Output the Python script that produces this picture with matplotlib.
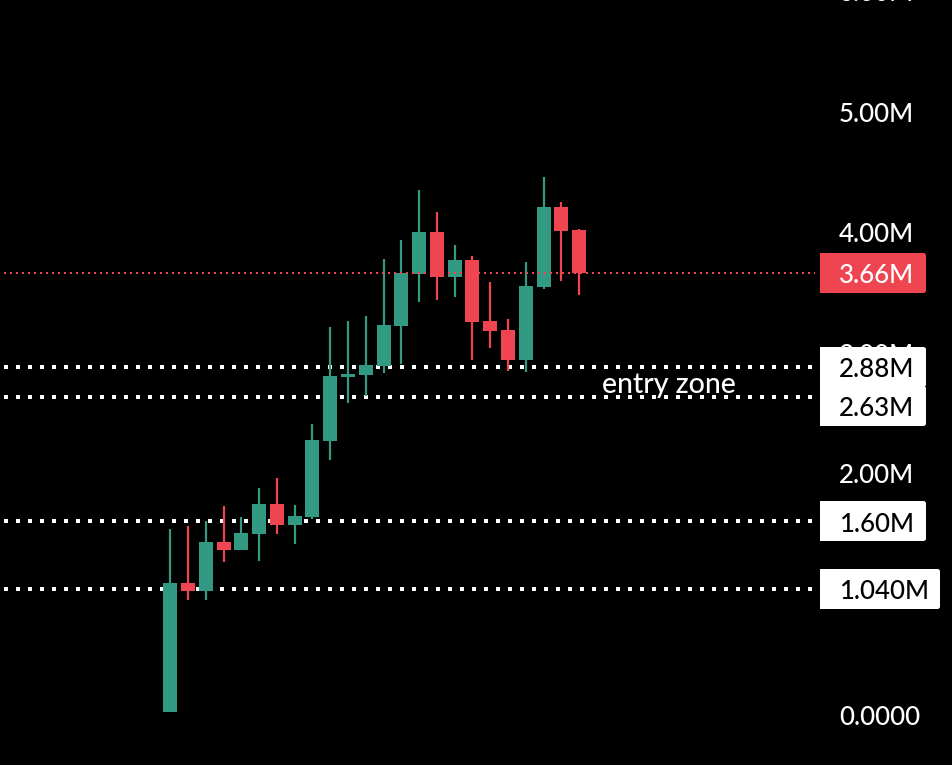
import matplotlib
matplotlib.use("Agg")
import matplotlib.pyplot as plt
from matplotlib.patches import FancyBboxPatch, Rectangle
from matplotlib.transforms import IdentityTransform

plt.rcParams['font.family'] = ['Lato', 'DejaVu Sans']
plt.rcParams['lines.scale_dashes'] = False

# candles (values in millions)
opens  = [0.020, 1.090, 1.023, 1.430, 1.363, 1.496, 1.745, 1.570, 1.637, 2.267, 2.798, 2.814, 2.889, 3.221,
          3.652, 4.000, 3.627, 3.768, 3.262, 3.187, 2.939, 3.544, 4.207, 4.017]
closes = [1.090, 1.023, 1.430, 1.363, 1.504, 1.745, 1.570, 1.645, 2.275, 2.806, 2.823, 2.897, 3.229, 3.660,
          4.000, 3.627, 3.768, 3.254, 3.179, 2.939, 3.552, 4.207, 4.008, 3.660]
highs  = [1.537, 1.562, 1.604, 1.728, 1.637, 1.877, 1.960, 1.736, 2.408, 3.212, 3.262, 3.303, 3.776, 3.934,
          4.348, 4.166, 3.892, 3.801, 3.585, 3.279, 3.751, 4.456, 4.249, 4.025]
lows   = [0.020, 0.949, 0.949, 1.264, 1.363, 1.272, 1.496, 1.413, 1.620, 2.109, 2.582, 2.640, 2.831, 2.905,
          3.420, 3.436, 3.461, 2.939, 3.038, 2.847, 2.839, 3.527, 3.594, 3.478]

axis_ticks = [0.0, 2.0, 3.0, 4.0, 5.0, 6.0]
axis_labels = ["0.0000", "2.00M", "3.00M", "4.00M", "5.00M", "6.00M"]
zone_levels = [2.88, 2.63, 1.60, 1.04]
zone_labels = ["2.88M", "2.63M", "1.60M", "1.040M"]
last_price = 3.66
last_label = "3.66M"
note = "entry zone"

GREEN = "#329A82"
RED = "#EE4550"
W, H = 953, 765
X0, STEP = 170.2, 17.78
Y0, SCALE = 714.4, 120.6
FS = 18.6


def px(p):
    return (p - X0) / STEP


fig = plt.figure(figsize=(W / 100, H / 100), dpi=100, facecolor="black")
ax = fig.add_axes([0, 0, 1, 1], facecolor="black")
ax.set_xlim(px(0), px(W))
ax.set_ylim((Y0 - H) / SCALE, Y0 / SCALE)
ax.axis("off")

lw_zone = 4 * 0.72
for v in zone_levels:
    ax.plot([px(4), px(815)], [v, v], color="white", lw=lw_zone, zorder=1,
            dash_capstyle="butt", linestyle=(0, (2.88, 5.76)))

for i, (o, c, h, l) in enumerate(zip(opens, closes, highs, lows)):
    col = GREEN if c >= o else RED
    ax.vlines(i, l, h, color=col, lw=1.6, zorder=2)
    ax.bar(i, abs(c - o), bottom=min(o, c), width=14 / STEP, color=col, lw=0, zorder=3)

ax.plot([px(4), px(815)], [last_price, last_price], color=RED, lw=1.44, zorder=4,
        dash_capstyle="butt", linestyle=(0, (1.44, 2.88)))

label_x = px(839)
BASE = 10.2 / SCALE   # baseline sits below the level by half the digit height


def label(v, text, color, z):
    ax.text(label_x, v - BASE, text, color=color, fontsize=FS, va="baseline", ha="left",
            fontweight="medium", zorder=z)


for v, t in zip(axis_ticks, axis_labels):
    label(v, t, "white", 5)


def tag(v, text, fc, tc, right=926, half=20, shift=0):
    # shift: pixels the tag is pushed down so it does not collide with its neighbour
    y = round(ax.transData.transform((0, v))[1]) - shift
    r = 2.5
    ax.add_patch(Rectangle((820, y - half), right - 820 - 8, 2 * half, fc=fc, lw=0, snap=False,
                           transform=IdentityTransform(), zorder=6))
    ax.add_patch(FancyBboxPatch((right - 20, y - half + r), 20 - r, 2 * half - 2 * r,
                                boxstyle=f"round,pad={r},rounding_size={r}", fc=fc, lw=0, snap=False,
                                transform=IdentityTransform(), zorder=6))
    label(v - shift / SCALE, text, tc, 7)


tag(last_price, last_label, RED, "white")
for v, t in zip(zone_levels, zone_labels):
    tag(v, t, "white", "black", right=940 if t == "1.040M" else 926,
        shift=9 if t == "2.63M" else 0)

ax.text(px(602), 2.665, note, color="white", fontsize=20.5, va="baseline", ha="left",
        fontweight="medium", zorder=5)

fig.savefig("out.png", dpi=100, facecolor="black")
